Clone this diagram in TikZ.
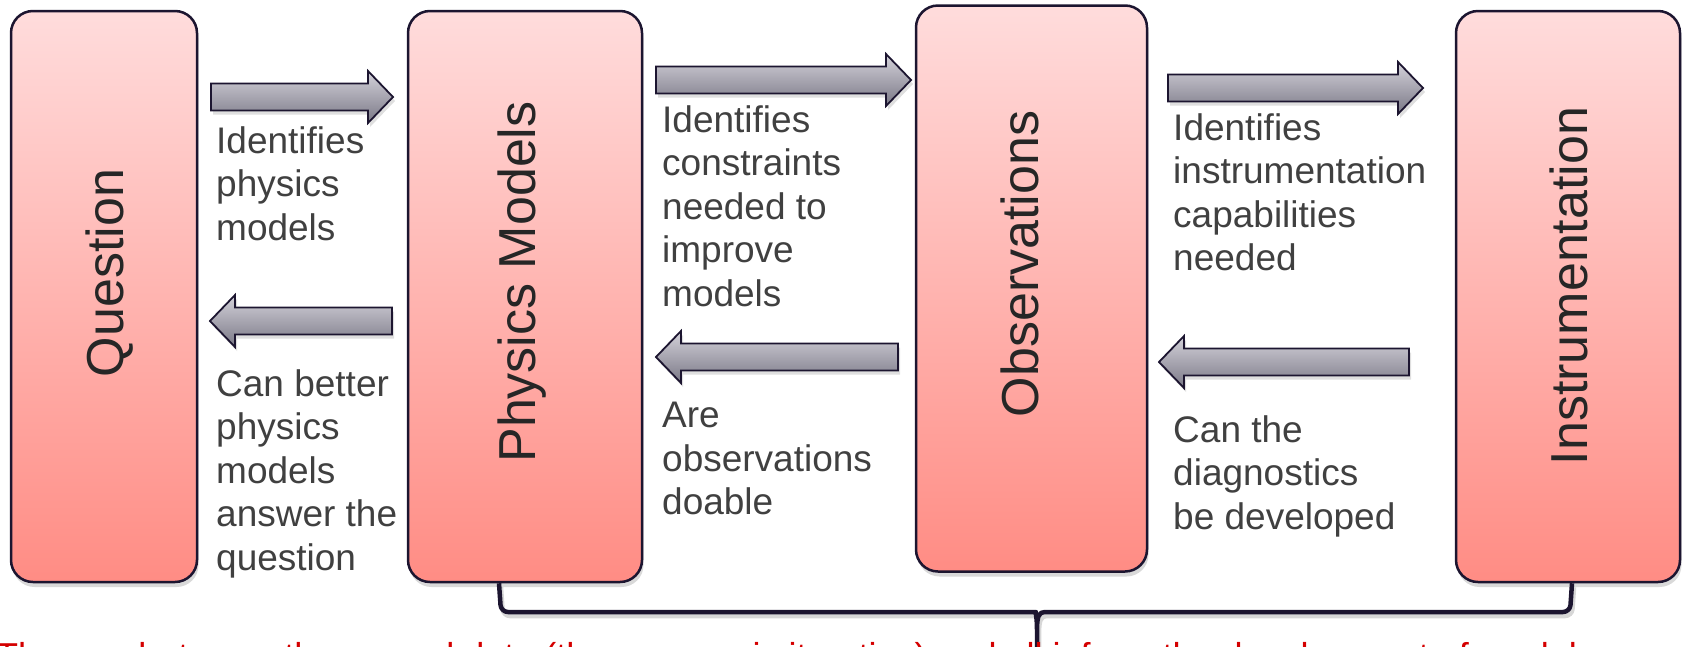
\documentclass[tikz,border=0pt]{standalone}
\usepackage{fontspec}
\setmainfont{Liberation Sans}
\usetikzlibrary{shadows,calc}
\definecolor{boxtop}{HTML}{FFDCDC}
\definecolor{boxbot}{HTML}{FF8C84}
\definecolor{edgec}{HTML}{1C1530}
\definecolor{arrtop}{HTML}{D4D2DA}
\definecolor{arrbot}{HTML}{7A7886}
\definecolor{lblc}{HTML}{404040}
\definecolor{ttlc}{HTML}{262626}
\definecolor{redtxt}{HTML}{D40000}
\tikzset{
  box/.style={draw=edgec, line width=2.5pt, rounded corners=22pt, top color=boxtop, bottom color=boxbot,
    drop shadow={opacity=0.3, shadow xshift=1.5pt, shadow yshift=-5pt}, inner sep=0pt},
  blockarrow/.style={draw=edgec, line width=1.8pt, line join=miter, top color=arrtop, bottom color=arrbot,
    drop shadow={opacity=0.25, shadow xshift=2pt, shadow yshift=-4pt}},
  lab/.style={anchor=north west, inner sep=0pt, align=left, text=lblc, font=\fontsize{37}{43.5}\selectfont},
  ttl/.style={rotate=90, anchor=base, inner sep=0pt, text=ttlc, font=\fontsize{52}{60}\selectfont},
  bracepath/.style={draw=edgec, line width=4.5pt, line join=round,
    preaction={draw=black!45, opacity=0.35, line width=4.5pt, transform canvas={shift={(2pt,-4pt)}}}}
}
\newcommand{\arrR}[4]{% name, x tail, x tip, y centre
  \draw[blockarrow] (#2,#4-13.5) -- (#3-25,#4-13.5) -- (#3-25,#4-26) -- (#3,#4) coordinate (#1)
    -- (#3-25,#4+26) -- (#3-25,#4+13.5) -- (#2,#4+13.5) -- cycle;}
\newcommand{\arrL}[4]{% name, x tip, x tail, y centre
  \draw[blockarrow] (#3,#4-13.5) -- (#2+25,#4-13.5) -- (#2+25,#4-26) -- (#2,#4) coordinate (#1)
    -- (#2+25,#4+26) -- (#2+25,#4+13.5) -- (#3,#4+13.5) -- cycle;}
\begin{document}
\begin{tikzpicture}[x=1pt,y=-1pt]
\useasboundingbox (0,0) rectangle (1691,646);
\clip (0,0) rectangle (1691,646);

% boxes
\node[box, minimum width=186pt, minimum height=571pt] (q)  at (104,296.5) {};
\node[box, minimum width=234pt, minimum height=571pt] (pm) at (525,296.5) {};
\node[box, minimum width=231pt, minimum height=566pt] (ob) at (1031.5,288.5) {};
\node[box, minimum width=224pt, minimum height=571pt] (in) at (1568,296.5) {};

% box titles
\node[ttl] (tq)  at (123,273) {Question};
\node[ttl] (tpm) at (535,282) {Physics Models};
\node[ttl] (tob) at (1038,264) {Observations};
\node[ttl] (tin) at (1587,286) {Instrumentation};

% block arrows
\arrR{a1}{211}{393}{97}
\arrL{a2}{210}{392}{321}
\arrR{a3}{656}{911}{80}
\arrL{a4}{656}{898}{357}
\arrR{a5}{1168}{1423}{88}
\arrL{a6}{1159}{1409}{362}

% labels
\node[lab] (l1) at (216,126) {Identifies\\physics\\models};
\node[lab] (l2) at (216,369) {Can better\\physics\\models\\answer the\\question};
\node[lab] (l3) at (662,105) {Identifies\\constraints\\needed to\\improve\\models};
\node[lab] (l4) at (662,402) {Are\\observations\\doable};
\node[lab] (l5) at (1173,113) {Identifies\\instrumentation\\capabilities\\needed};
\node[lab] (l6) at (1173,415) {Can the\\diagnostics\\be developed};

% brace under the three right boxes
\coordinate (bl) at ($(pm.south)+(-26,0)$);
\coordinate (br) at ($(in.south)+(4,0)$);
\coordinate (bc) at (1037,660);
\draw[bracepath] (bl) [rounded corners=7pt] -- (501,612) -- (1029,612) [sharp corners]
  .. controls (1035,612) and (1037,616) .. (1037,630) -- (bc)
  (1037,630) .. controls (1037,616) and (1039,612) .. (1045,612)
  [rounded corners=7pt] -- (1570,612) -- (br);

% red note (mostly cut off by the bottom edge)
\node[anchor=base west, inner sep=0pt, text=redtxt, font=\fontsize{36}{40}\selectfont] (note) at (-4,668)
  {The gap between theory and data (the process is iterative) and all inform the development of models};
\end{tikzpicture}
\end{document}
